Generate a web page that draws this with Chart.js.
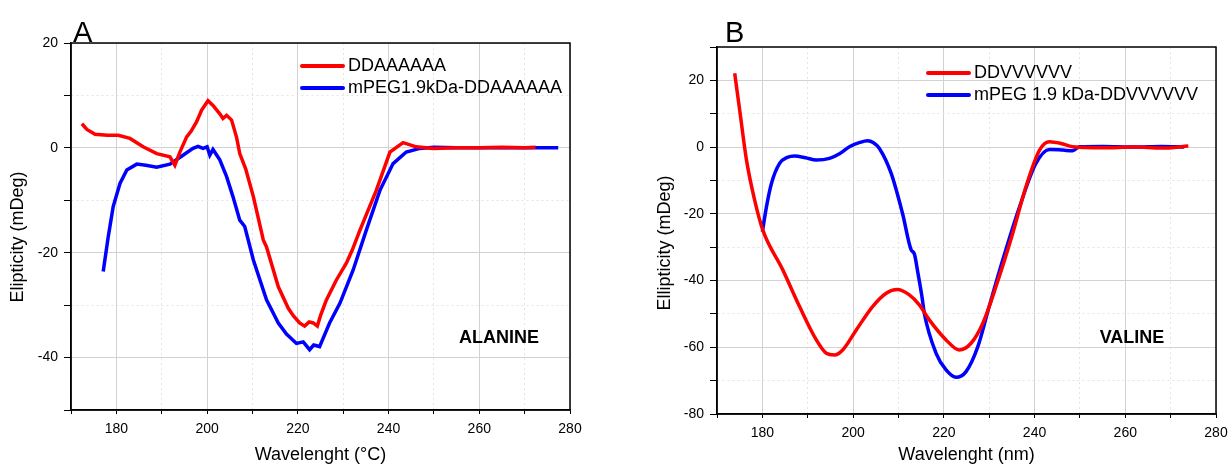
<!DOCTYPE html>
<html>
<head>
<meta charset="utf-8">
<script src="https://cdn.jsdelivr.net/npm/chart.js@4.4.1/dist/chart.umd.min.js"></script>
<style>
  html, body { margin: 0; padding: 0; background: #fff; }
  #wrap { position: relative; width: 1231px; height: 466px; overflow: hidden; }
  canvas { position: absolute; top: 0; }
  #chartA { left: 0; }
  #chartB { left: 615px; }
</style>
</head>
<body>
<div id="wrap">
  <canvas id="chartA" width="600" height="466"></canvas>
  <canvas id="chartB" width="620" height="466"></canvas>
</div>
<script>
// panel A - alanine
const alaWave = [172.4, 173.5, 175.3, 178, 180.4, 183, 185.9, 188.9, 191.8, 192.9, 194, 195.5, 196.5, 197.7, 198.8, 200.2, 201.3, 202.8, 203.5, 204.3, 205.4, 206.5, 207.2, 208.5, 210.2, 212.4, 213.1, 215.7, 217.9, 219, 220.4, 221.5, 222.5, 223.4, 224.3, 225, 226.3, 228.5, 230.7, 232, 233.7, 237.3, 240.3, 243.2, 246.1, 249.8, 255, 260, 265, 270, 272.4];
const alaFree = [4.6, 3.5, 2.6, 2.4, 2.4, 1.8, 0.2, -1.1, -1.7, -3.3, -0.8, 2.1, 3.2, 5.0, 7.2, 9.0, 8.1, 6.5, 5.6, 6.2, 5.3, 2, -1.1, -4, -9.3, -17.6, -18.9, -26.5, -30.6, -32, -33.4, -34, -33.2, -33.4, -34, -32, -29, -25.2, -22, -19.5, -15.7, -8.1, -0.8, 1.0, 0.2, -0.1, 0, 0, 0.1, 0, 0.1];
const alaPegWave = [177.1, 178.2, 179.3, 180.8, 182.3, 184.5, 186.5, 188.9, 191.8, 194.7, 196.9, 198, 199.1, 200, 200.6, 201.3, 202.8, 204.3, 205.7, 207.2, 208.3, 210.2, 213.1, 215.7, 217.5, 219.7, 221.2, 222.6, 223.5, 224.8, 227, 229.3, 232.2, 235.1, 238.1, 241, 243.9, 246.9, 250, 255, 260, 265, 270, 277.4];
const alaPeg = [-23.6, -17, -11.2, -6.8, -4.2, -3.1, -3.3, -3.7, -3.1, -1.4, -0.1, 0.3, -0.1, 0.2, -1.4, -0.3, -2.3, -5.5, -9.3, -13.8, -15, -21.4, -29, -33.4, -35.5, -37.3, -37, -38.5, -37.6, -37.9, -33.4, -29.6, -23.3, -15.7, -8.1, -3, -0.8, -0.1, 0.1, 0, 0, 0, 0, 0];

// panel B - valine
const valWave = [173.9, 175, 176.5, 178.3, 180.1, 184.5, 188.2, 191.9, 194.1, 195.9, 197.7, 200.7, 204.3, 207.3, 209.7, 212.4, 214.6, 216.8, 220.5, 223.4, 226, 228.6, 231.5, 235.2, 238.1, 241.1, 243.3, 245.8, 248.4, 255, 262, 268, 273.9];
const valFree = [22.1, 11.1, -3.9, -15.9, -24.9, -36.8, -47.8, -57.8, -61.8, -62.3, -60.8, -54.8, -47.8, -43.8, -42.7, -44.3, -47.3, -51.8, -57.8, -60.8, -58.8, -52.8, -41.8, -25.8, -11.9, -0.9, 1.6, 1.1, 0.1, -0.2, 0, -0.3, 0.3];
const valPegWave = [180, 180.9, 182, 183.8, 185.5, 187.1, 189.5, 191.9, 194.8, 197, 199.2, 201.5, 203.2, 204.5, 205.8, 208.4, 210.9, 212.8, 213.5, 214.3, 215.2, 215.7, 218.3, 220.5, 222.7, 224.9, 227.5, 230, 233, 236.7, 240.3, 243.3, 246.2, 248.4, 249.9, 255, 262, 268, 273];
const valPeg = [-25.4, -17.9, -10.9, -4.9, -3.1, -2.7, -3.2, -3.9, -3.4, -2, 0.1, 1.4, 1.9, 1.3, -0.4, -7.9, -19.9, -30.8, -32, -37.8, -45, -49.8, -61.8, -66.8, -69, -67.3, -59.8, -47.8, -33.8, -17.9, -4.9, -0.7, -0.9, -1.1, 0.1, 0.2, 0, 0.2, 0];

const FONT = '"Liberation Sans", Arial, sans-serif';
const toPoints = (xs, ys) => xs.map((x, i) => ({ x: x, y: ys[i] }));

// frame, panel letter, legend, in-plot tag and y title
const panelDecor = {
  id: 'panelDecor',
  afterDraw(chart, args, o) {
    const { ctx, chartArea: a } = chart;
    ctx.save();
    ctx.strokeStyle = '#000';
    ctx.lineWidth = 1.5;
    ctx.strokeRect(a.left, a.top, a.right - a.left, a.bottom - a.top);

    ctx.fillStyle = '#000';
    ctx.textAlign = 'left';
    ctx.textBaseline = 'alphabetic';
    ctx.font = '29px ' + FONT;
    ctx.fillText(o.letter, a.left + o.letterX, a.top + o.letterY);

    ctx.font = '18px ' + FONT;
    ctx.textBaseline = 'middle';
    ctx.lineCap = 'round';
    chart.data.datasets.forEach((ds, i) => {
      const x = a.left + o.legendX;
      const y = a.top + o.legendY + i * 22;
      ctx.strokeStyle = ds.borderColor;
      ctx.lineWidth = 4;
      ctx.beginPath();
      ctx.moveTo(x, y);
      ctx.lineTo(x + 41, y);
      ctx.stroke();
      ctx.fillText(ds.label, x + 46, y);
    });

    ctx.font = 'bold 18px ' + FONT;
    ctx.textAlign = 'center';
    ctx.fillText(o.tag, a.left + o.tagX, a.top + o.tagY);

    ctx.font = '18px ' + FONT;
    ctx.translate(o.yTitleX, o.yTitleY);
    ctx.rotate(-Math.PI / 2);
    ctx.fillText(o.yTitle, 0, 0);
    ctx.restore();
  }
};

function axisOpts(min, max, tickLen, pad, extra) {
  return Object.assign({
    type: 'linear',
    min: min,
    max: max,
    ticks: {
      stepSize: 10,
      padding: pad,
      color: '#000',
      font: { size: 14, family: FONT },
      callback: v => (v % 20 === 0 ? v : '')
    },
    grid: {
      color: c => (c.tick && c.tick.value % 20 !== 0 ? '#e4e4e4' : '#d2d2d2'),
      tickColor: '#000',
      tickLength: tickLen,
      lineWidth: 1
    },
    border: {
      color: '#000',
      width: 1.5,
      dash: c => (c.tick && c.tick.value % 20 !== 0 ? [2, 3] : [])
    }
  }, extra);
}

function makeChart(id, sets, cfg) {
  return new Chart(document.getElementById(id), {
    type: 'line',
    data: {
      datasets: sets.map(s => ({
        label: s.label,
        data: toPoints(s.x, s.y),
        borderColor: s.color,
        borderWidth: 3.5,
        pointRadius: 0,
        fill: false,
        tension: 0,
        cubicInterpolationMode: cfg.smooth ? 'monotone' : 'default'
      }))
    },
    options: {
      responsive: false,
      animation: false,
      devicePixelRatio: 1,
      layout: { padding: { top: cfg.padTop, right: cfg.padRight, left: 0, bottom: 0 } },
      plugins: {
        legend: { display: false },
        tooltip: { enabled: false },
        panelDecor: cfg.decor
      },
      scales: {
        x: axisOpts(170, 280, 4, 7, {
          position: 'bottom',
          afterFit: s => { s.height = cfg.xHeight; },
          title: {
            display: true,
            text: cfg.xTitle,
            color: '#000',
            font: { size: 18, family: FONT },
            padding: { top: 0, bottom: 0 }
          }
        }),
        y: axisOpts(cfg.yMin, cfg.yMax, cfg.yTick, cfg.yPad, {
          position: 'left',
          afterFit: s => { s.width = cfg.yWidth; }
        })
      }
    },
    plugins: [panelDecor]
  });
}

makeChart('chartA', [
  { label: 'DDAAAAAA', x: alaWave, y: alaFree, color: '#ff0000' },
  { label: 'mPEG1.9kDa-DDAAAAAA', x: alaPegWave, y: alaPeg, color: '#0000ff' }
], {
  smooth: false,
  padTop: 43, padRight: 30, xHeight: 56, yWidth: 71,
  yMin: -50, yMax: 20, yTick: 7, yPad: 6,
  xTitle: 'Wavelenght (°C)',
  decor: {
    letter: 'A', letterX: 2, letterY: -1,
    legendX: 231, legendY: 23,
    tag: 'ALANINE', tagX: 428, tagY: 295,
    yTitle: 'Elipticity (mDeg)', yTitleX: 18, yTitleY: 237
  }
});

makeChart('chartB', [
  { label: 'DDVVVVVV', x: valWave, y: valFree, color: '#ff0000' },
  { label: 'mPEG 1.9 kDa-DDVVVVVV', x: valPegWave, y: valPeg, color: '#0000ff' }
], {
  smooth: true,
  padTop: 47, padRight: 19, xHeight: 52, yWidth: 102,
  yMin: -80, yMax: 30, yTick: 7, yPad: 6,
  xTitle: 'Wavelenght (nm)',
  decor: {
    letter: 'B', letterX: 8, letterY: -5,
    legendX: 211, legendY: 26,
    tag: 'VALINE', tagX: 415, tagY: 291,
    yTitle: 'Ellipticity (mDeg)', yTitleX: 50, yTitleY: 243
  }
});
</script>
</body>
</html>
